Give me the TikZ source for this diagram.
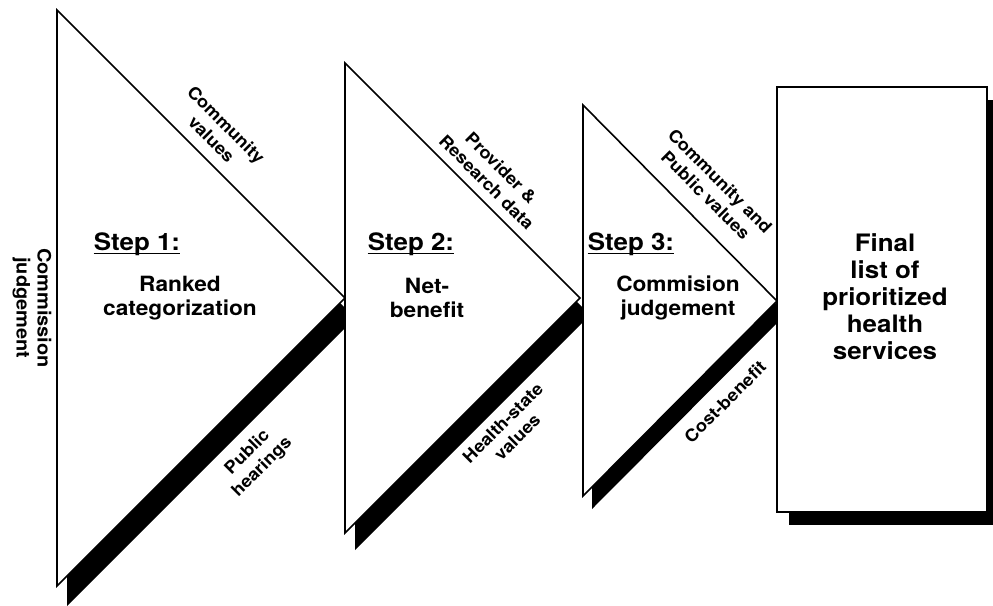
\documentclass[tikz,border=0pt]{standalone}
\usepackage{fontspec}
\setmainfont{TeX Gyre Heros}
\newfontfamily\widehv[FakeStretch=1.08]{TeX Gyre Heros}
\begin{document}
\begin{tikzpicture}[x=1pt,y=-1pt,
  panel/.style={draw=black,line width=1.6pt,fill=white,line join=miter},
  shade/.style={fill=black},
  lbl/.style={font=\widehv\bfseries\fontsize{17}{20.5}\selectfont,align=center,inner sep=0pt},
  sidelbl/.style={font=\widehv\bfseries\fontsize{18.5}{21}\selectfont,align=center,inner sep=0pt},
  body/.style={font=\widehv\bfseries\fontsize{21}{24}\selectfont,align=center,inner sep=0pt},
  result/.style={font=\widehv\bfseries\fontsize{24}{27}\selectfont,align=center,inner sep=0pt},
  steplbl/.style={font=\widehv\bfseries\fontsize{24}{26}\selectfont,inner sep=0pt,anchor=base},
  rule/.style={line width=1.8pt}]
\useasboundingbox (0,0) rectangle (993,605);

% corner points of the three wedges and the result box
\coordinate (t1a) at (57,10);  \coordinate (t1b) at (345,298); \coordinate (t1c) at (57,586);
\coordinate (t2a) at (345,63); \coordinate (t2b) at (580,298); \coordinate (t2c) at (345,533);
\coordinate (t3a) at (583,105);\coordinate (t3b) at (777,301); \coordinate (t3c) at (583,496);
\coordinate (bxa) at (777,87); \coordinate (bxb) at (987,512);

% wedge 1 with its drop shadow
\fill[shade] ([shift={(10,20)}]t1a) -- ([shift={(10,20)}]t1b) -- ([shift={(10,20)}]t1c) -- cycle;
\draw[panel] (t1a) -- (t1b) -- (t1c) -- cycle;
% wedge 2
\fill[shade] ([shift={(10,17)}]t2a) -- ([shift={(10,17)}]t2b) -- ([shift={(10,17)}]t2c) -- cycle;
\draw[panel] (t2a) -- (t2b) -- (t2c) -- cycle;
% wedge 3
\fill[shade] ([shift={(9,13)}]t3a) -- ([shift={(9,13)}]t3b) -- ([shift={(9,13)}]t3c) -- cycle;
\draw[panel] (t3a) -- (t3b) -- (t3c) -- cycle;
% result box
\fill[shade] ([shift={(12,13)}]bxa) rectangle ([shift={(12,13)}]bxb);
\draw[panel] (bxa) rectangle (bxb);

% side label
\node[sidelbl,rotate=-90] (cj) at (32,308) {Commission\\judgement};

% step 1
\node[steplbl] (s1) at (137,250) {Step 1:};
\draw[rule] ([yshift=-3.5pt]s1.base west) -- ([yshift=-3.5pt]s1.base east);
\node[body] (s1t) at (180,298) {Ranked\\categorization};
\node[lbl,rotate=-45] (cv) at (219,132) {Community\\values};
\node[lbl,rotate=45] (ph) at (255,460) {Public\\hearings};

% step 2
\node[steplbl] (s2) at (411,250) {Step 2:};
\draw[rule] ([yshift=-3.5pt]s2.base west) -- ([yshift=-3.5pt]s2.base east);
\node[body] (s2t) at (427,298) {Net-\\benefit};
\node[lbl,rotate=-45] (pr) at (494,175) {Provider \&\\Research data};
\node[lbl,rotate=45] (hs) at (510,430) {Health-state\\values};

% step 3
\node[steplbl] (s3) at (631,250) {Step 3:};
\draw[rule] ([yshift=-3.5pt]s3.base west) -- ([yshift=-3.5pt]s3.base east);
\node[body] (s3t) at (678,298) {Commision\\judgement};
\node[lbl,rotate=-45] (cp) at (713,188) {Community and\\Public values};
\node[lbl,rotate=45] (cb) at (725,402) {Cost-benefit};

% result
\node[result] (fl) at (885,297) {Final\\list of\\prioritized\\health\\services};
\end{tikzpicture}
\end{document}
